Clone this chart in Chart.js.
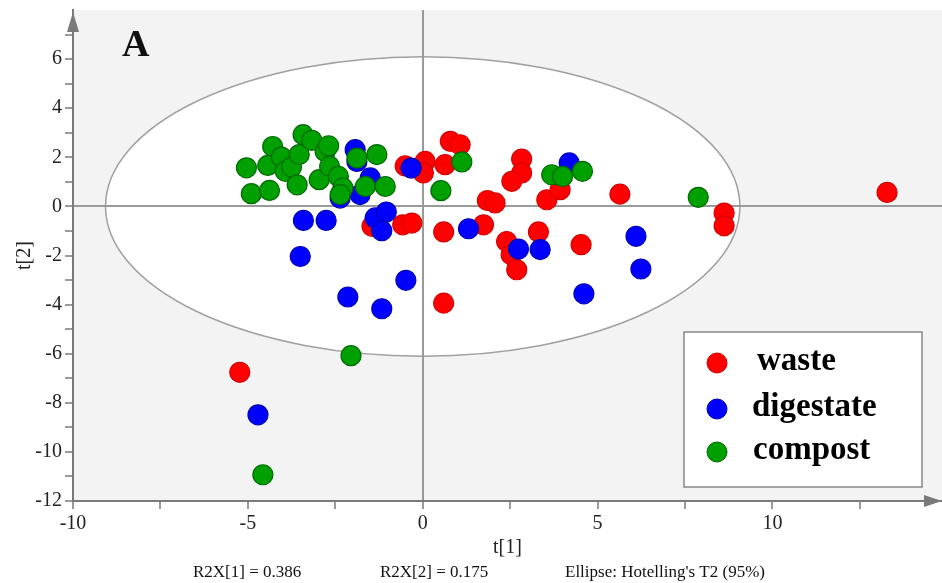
<!DOCTYPE html>
<html>
<head>
<meta charset="utf-8">
<script src="https://cdn.jsdelivr.net/npm/chart.js@4"></script>
<style>
  html, body { margin: 0; padding: 0; background: #fff; }
  #wrap { width: 942px; height: 583px; position: relative; }
</style>
</head>
<body>
<div id="wrap"><canvas id="pcaChart"></canvas></div>
<script>
// Dữ liệu điểm số PCA (t[1], t[2])
const seriesNames = ['waste', 'digestate', 'compost'];

const wastePoints = [
    [0.79, 2.65], [1.07, 2.51], [0.64, 1.70], [0.07, 1.83], [0.02, 1.36], [-0.5, 1.65],
    [2.83, 1.93], [2.83, 1.36], [2.55, 1.02], [1.85, 0.24], [2.07, 0.14], [3.55, 0.27],
    [3.93, 0.68], [-0.57, -0.75], [-0.31, -0.68], [-1.45, -0.81], [0.6, -1.04], [1.74, -0.75],
    [2.4, -1.43], [2.53, -1.97], [2.69, -2.58], [3.31, -1.04], [4.53, -1.56], [5.64, 0.5],
    [8.62, -0.27], [8.62, -0.79], [13.28, 0.57], [-5.23, -6.76], [0.6, -3.94]
];

const digestatePoints = [
    [-1.93, 2.31], [-1.88, 1.83], [-1.5, 1.16], [-1.79, 0.48], [-2.36, 0.34], [-3.41, -0.57],
    [-2.76, -0.57], [-3.5, -2.04], [-1.36, -0.47], [-1.04, -0.23], [-1.17, -0.99], [-0.48, -3.01],
    [-2.14, -3.69], [-1.17, -4.17], [-0.33, 1.56], [1.31, -0.91], [2.74, -1.74], [3.36, -1.76],
    [4.19, 1.77], [6.1, -1.22], [6.24, -2.55], [4.61, -3.56], [-4.71, -8.49]
];

const compostPoints = [
    [-5.04, 1.57], [-4.9, 0.52], [-4.38, 0.65], [-4.29, 2.44], [-4.43, 1.67], [-4.04, 2.01],
    [-3.93, 1.43], [-3.75, 1.6], [-3.59, 0.88], [-3.53, 2.11], [-3.42, 2.92], [-3.17, 2.69],
    [-2.96, 1.09], [-2.79, 2.24], [-2.69, 2.47], [-2.66, 1.63], [-2.41, 1.22], [-2.28, 0.75],
    [-2.36, 0.48], [-1.88, 1.97], [-1.31, 2.11], [-1.64, 0.81], [-1.07, 0.81], [-2.05, -6.08],
    [-4.57, -10.93], [0.52, 0.64], [1.12, 1.81], [3.69, 1.29], [4.0, 1.22], [4.57, 1.43],
    [7.88, 0.37]
];

// Trục và nhãn
const xTickValues = [-10, -7.5, -5, -2.5, 0, 2.5, 5, 7.5, 10, 12.5];
const xTickLabels = ['-10', '', '-5', '', '0', '', '5', '', '10', ''];
const yTickValues = [-12, -11, -10, -9, -8, -7, -6, -5, -4, -3, -2, -1, 0, 1, 2, 3, 4, 5, 6, 7];
const yTickLabels = ['-12', '', '-10', '', '-8', '', '-6', '', '-4', '', '-2', '', '0', '', '2', '', '4', '', '6', ''];

// Elip Hotelling's T2 (95%): tâm và bán trục
const ellipseCenter = [0, 0];
const ellipseRadii = [9.07, 6.1];

const footerTexts = ['R2X[1] = 0.386', 'R2X[2] = 0.175', "Ellipse: Hotelling's T2 (95%)"];

const colors = {
    waste: { fill: '#ff0000', border: '#d80000' },
    digestate: { fill: '#0000ff', border: '#0000b8' },
    compost: { fill: '#00a000', border: '#006a00' }
};

const serif = "'Liberation Serif', 'Times New Roman', serif";

function toXY(list) {
    return list.map(p => ({ x: p[0], y: p[1] }));
}

function makeDataset(name, points, order) {
    return {
        label: name,
        data: toXY(points),
        backgroundColor: colors[name].fill,
        borderColor: colors[name].border,
        borderWidth: 1.2,
        pointRadius: 10,
        pointHoverRadius: 10,
        order: order
    };
}

// Nền xám, elip trắng
const backgroundPlugin = {
    id: 'pcaBackground',
    beforeDraw(chart) {
        const { ctx, chartArea, scales } = chart;
        const x = scales.x, y = scales.y;
        ctx.save();
        ctx.fillStyle = '#f3f3f3';
        ctx.fillRect(chartArea.left, chartArea.top, chartArea.right - chartArea.left, chartArea.bottom - chartArea.top);
        const cx = x.getPixelForValue(ellipseCenter[0]);
        const cy = y.getPixelForValue(ellipseCenter[1]);
        const rx = Math.abs(x.getPixelForValue(ellipseCenter[0] + ellipseRadii[0]) - cx);
        const ry = Math.abs(y.getPixelForValue(ellipseCenter[1] + ellipseRadii[1]) - cy);
        ctx.beginPath();
        ctx.ellipse(cx, cy, rx, ry, 0, 0, Math.PI * 2);
        ctx.fillStyle = '#ffffff';
        ctx.fill();
        ctx.lineWidth = 1.5;
        ctx.strokeStyle = '#a0a0a0';
        ctx.stroke();
        ctx.restore();
    }
};

// Mũi tên trục, chữ A, chú giải, dòng chú thích dưới cùng
const overlayPlugin = {
    id: 'pcaOverlay',
    afterDraw(chart) {
        const { ctx, chartArea } = chart;
        ctx.save();

        // mũi tên
        ctx.fillStyle = '#7a7a7a';
        ctx.strokeStyle = '#7a7a7a';
        ctx.lineWidth = 2;
        ctx.beginPath();
        ctx.moveTo(chartArea.left, chartArea.top);
        ctx.lineTo(chartArea.left, chartArea.top + 20);
        ctx.stroke();
        ctx.beginPath();
        ctx.moveTo(chartArea.left, chartArea.top + 2);
        ctx.lineTo(chartArea.left - 6, chartArea.top + 22);
        ctx.lineTo(chartArea.left + 6, chartArea.top + 22);
        ctx.closePath();
        ctx.fill();
        ctx.beginPath();
        ctx.moveTo(chartArea.right, chartArea.bottom);
        ctx.lineTo(chartArea.right - 18, chartArea.bottom - 6);
        ctx.lineTo(chartArea.right - 18, chartArea.bottom + 6);
        ctx.closePath();
        ctx.fill();

        // chữ A
        ctx.fillStyle = '#111';
        ctx.font = 'bold 38px ' + serif;
        ctx.textBaseline = 'middle';
        ctx.textAlign = 'left';
        ctx.fillText('A', 122, 46);

        // chú giải
        const box = { x: 684, y: 332, w: 238, h: 155 };
        ctx.fillStyle = '#ffffff';
        ctx.fillRect(box.x, box.y, box.w, box.h);
        ctx.strokeStyle = '#888';
        ctx.lineWidth = 1.5;
        ctx.strokeRect(box.x, box.y, box.w, box.h);
        const rowsY = [363, 409, 452];
        const textX = [757, 752, 753];
        chart.data.datasets.slice().sort((a, b) => seriesNames.indexOf(a.label) - seriesNames.indexOf(b.label)).forEach((ds, i) => {
            ctx.beginPath();
            ctx.arc(717, rowsY[i], 10, 0, Math.PI * 2);
            ctx.fillStyle = ds.backgroundColor;
            ctx.fill();
            ctx.lineWidth = 1;
            ctx.strokeStyle = ds.borderColor;
            ctx.stroke();
            ctx.fillStyle = '#000';
            ctx.font = 'bold 33px ' + serif;
            ctx.fillText(ds.label, textX[i], rowsY[i] - 2);
        });

        // dòng dưới
        ctx.fillStyle = '#111';
        ctx.font = '17px ' + serif;
        ctx.fillText(footerTexts[0], 193, 573);
        ctx.fillText(footerTexts[1], 380, 573);
        ctx.fillText(footerTexts[2], 565, 573);
        ctx.restore();
    }
};

function zeroLine(ctx) {
    return ctx.tick && ctx.tick.value === 0 ? '#9a9a9a' : 'rgba(0,0,0,0)';
}

function drawPcaChart() {
    const ctx = document.getElementById('pcaChart').getContext('2d');

    new Chart(ctx, {
        type: 'scatter',
        data: {
            datasets: [
                makeDataset('waste', wastePoints, 3),
                makeDataset('digestate', digestatePoints, 2),
                makeDataset('compost', compostPoints, 1)
            ]
        },
        options: {
            responsive: true,
            maintainAspectRatio: false,
            animation: false,
            layout: { autoPadding: false, padding: { top: 10, right: 0, left: 0, bottom: 0 } },
            plugins: {
                legend: { display: false },
                tooltip: { enabled: false }
            },
            scales: {
                x: {
                    type: 'linear',
                    min: -10,
                    max: 14.85,
                    afterFit: scale => {
                        scale.height = 82;
                        scale.paddingLeft = 0;
                        scale.paddingRight = 0;
                    },
                    afterBuildTicks: scale => { scale.ticks = xTickValues.map(v => ({ value: v })); },
                    ticks: {
                        autoSkip: false,
                        maxRotation: 0,
                        padding: 3,
                        color: '#222',
                        font: { family: serif, size: 20 },
                        callback: (value, index) => xTickLabels[index]
                    },
                    grid: {
                        color: zeroLine,
                        lineWidth: 2,
                        tickColor: '#7a7a7a',
                        tickLength: 8,
                        tickWidth: 1.5
                    },
                    border: { color: '#7a7a7a', width: 2 },
                    title: {
                        display: true,
                        text: 't[1]',
                        color: '#222',
                        font: { family: serif, size: 20 },
                        padding: { top: 0, bottom: 23 }
                    }
                },
                y: {
                    type: 'linear',
                    min: -12,
                    max: 8,
                    afterFit: scale => {
                        scale.width = 73;
                        scale.paddingTop = 0;
                        scale.paddingBottom = 0;
                    },
                    afterBuildTicks: scale => { scale.ticks = yTickValues.map(v => ({ value: v })); },
                    ticks: {
                        autoSkip: false,
                        padding: 3,
                        color: '#222',
                        font: { family: serif, size: 20 },
                        callback: (value, index) => yTickLabels[index]
                    },
                    grid: {
                        color: zeroLine,
                        lineWidth: 2,
                        tickColor: '#7a7a7a',
                        tickLength: 8,
                        tickWidth: 1.5
                    },
                    border: { color: '#7a7a7a', width: 2 },
                    title: {
                        display: true,
                        text: 't[2]',
                        color: '#222',
                        font: { family: serif, size: 20 },
                        padding: { top: 13, bottom: 0 }
                    }
                }
            }
        },
        plugins: [backgroundPlugin, overlayPlugin]
    });
}

document.addEventListener('DOMContentLoaded', drawPcaChart);
</script>
</body>
</html>
